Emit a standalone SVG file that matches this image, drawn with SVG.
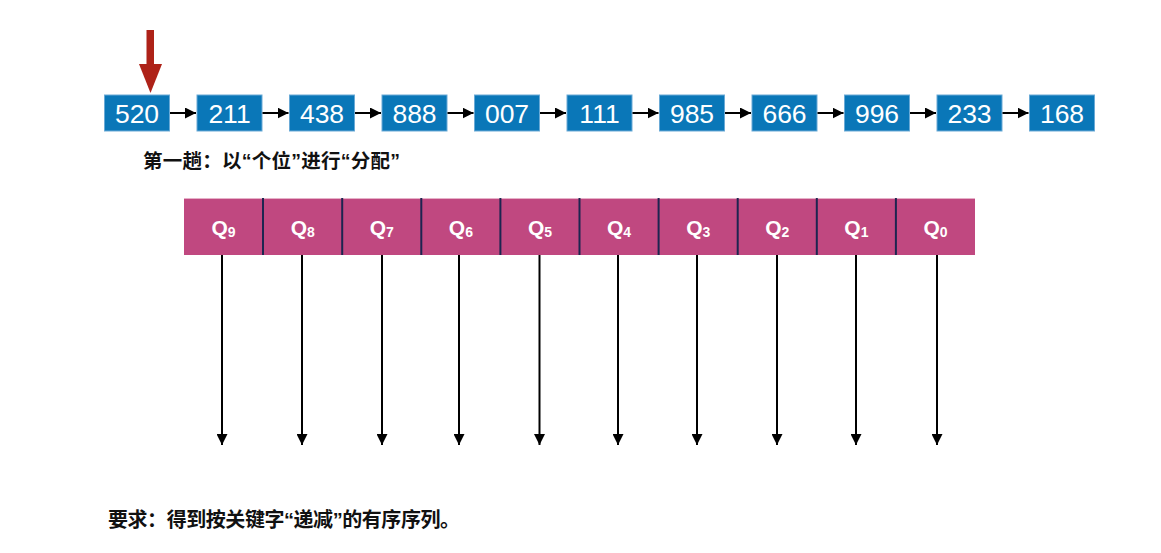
<svg xmlns="http://www.w3.org/2000/svg" width="1161" height="553" viewBox="0 0 1161 553">
<defs>
<style>
.box{fill:#0a77b8;stroke:#6aaad6;stroke-width:1}
.num{font-family:"Liberation Sans",Arial,sans-serif;font-size:26.5px;fill:#fff;text-anchor:middle}
.cell{fill:#c04880}
.div{stroke:#1c2550;stroke-width:2}
.q{font-family:"Liberation Sans",Arial,sans-serif;font-weight:bold;font-size:21px;fill:#fff;text-anchor:middle}
.q tspan.s{font-size:14px}
.lnk{stroke:#000;stroke-width:2;fill:none}
.cap{font-family:"Liberation Sans","Noto Sans CJK SC",sans-serif;font-weight:bold;fill:#111}
</style>
<marker id="ah" viewBox="0 0 10 10" refX="10" refY="5" markerWidth="5.5" markerHeight="5.5" markerUnits="strokeWidth" orient="auto"><path d="M0,0 L10,5 L0,10 Z" fill="#000"/></marker>
</defs>
<rect width="1161" height="553" fill="#fff"/>
<g id="pointer">
<rect x="146.5" y="30" width="7.5" height="35" fill="#ae2218"/>
<polygon points="139,64 162,64 150.5,93" fill="#ae2218"/>
</g>
<g id="n520"><rect class="box" x="104.5" y="95" width="65" height="36"/><text class="num" x="137" y="123">520</text></g>
<g id="n211"><rect class="box" x="197" y="95" width="65" height="36"/><text class="num" x="229.5" y="123">211</text></g>
<g id="n438"><rect class="box" x="289.5" y="95" width="65" height="36"/><text class="num" x="322" y="123">438</text></g>
<g id="n888"><rect class="box" x="382" y="95" width="65" height="36"/><text class="num" x="414.5" y="123">888</text></g>
<g id="n007"><rect class="box" x="474.5" y="95" width="65" height="36"/><text class="num" x="507" y="123">007</text></g>
<g id="n111"><rect class="box" x="567" y="95" width="65" height="36"/><text class="num" x="599.5" y="123">111</text></g>
<g id="n985"><rect class="box" x="659.5" y="95" width="65" height="36"/><text class="num" x="692" y="123">985</text></g>
<g id="n666"><rect class="box" x="752" y="95" width="65" height="36"/><text class="num" x="784.5" y="123">666</text></g>
<g id="n996"><rect class="box" x="844.5" y="95" width="65" height="36"/><text class="num" x="877" y="123">996</text></g>
<g id="n233"><rect class="box" x="937" y="95" width="65" height="36"/><text class="num" x="969.5" y="123">233</text></g>
<g id="n168"><rect class="box" x="1029.5" y="95" width="65" height="36"/><text class="num" x="1062" y="123">168</text></g>
<text class="cap" x="143" y="168" font-size="19.5" textLength="257">第一趟：以“个位”进行“分配”</text>
<g id="queues">
<rect class="cell" x="184" y="198" width="791" height="57"/>
<line x1="184" y1="198.5" x2="975" y2="198.5" stroke="#e6b0c8" stroke-width="1"/>
<line class="div" x1="263" y1="198" x2="263" y2="255"/>
<line class="div" x1="342.2" y1="198" x2="342.2" y2="255"/>
<line class="div" x1="421.3" y1="198" x2="421.3" y2="255"/>
<line class="div" x1="500.4" y1="198" x2="500.4" y2="255"/>
<line class="div" x1="579.5" y1="198" x2="579.5" y2="255"/>
<line class="div" x1="658.6" y1="198" x2="658.6" y2="255"/>
<line class="div" x1="737.7" y1="198" x2="737.7" y2="255"/>
<line class="div" x1="816.8" y1="198" x2="816.8" y2="255"/>
<line class="div" x1="895.9" y1="198" x2="895.9" y2="255"/>
<g id="q9"><text class="q" x="223.6" y="235">Q<tspan class="s" dy="2">9</tspan></text></g>
<g id="q8"><text class="q" x="302.7" y="235">Q<tspan class="s" dy="2">8</tspan></text></g>
<g id="q7"><text class="q" x="381.8" y="235">Q<tspan class="s" dy="2">7</tspan></text></g>
<g id="q6"><text class="q" x="460.9" y="235">Q<tspan class="s" dy="2">6</tspan></text></g>
<g id="q5"><text class="q" x="540" y="235">Q<tspan class="s" dy="2">5</tspan></text></g>
<g id="q4"><text class="q" x="619.1" y="235">Q<tspan class="s" dy="2">4</tspan></text></g>
<g id="q3"><text class="q" x="698.2" y="235">Q<tspan class="s" dy="2">3</tspan></text></g>
<g id="q2"><text class="q" x="777.3" y="235">Q<tspan class="s" dy="2">2</tspan></text></g>
<g id="q1"><text class="q" x="856.4" y="235">Q<tspan class="s" dy="2">1</tspan></text></g>
<g id="q0"><text class="q" x="935.5" y="235">Q<tspan class="s" dy="2">0</tspan></text></g>
</g>
<g id="connectors">
<line class="lnk" x1="170" y1="113" x2="196" y2="113" marker-end="url(#ah)"/>
<line class="lnk" x1="262.5" y1="113" x2="288.5" y2="113" marker-end="url(#ah)"/>
<line class="lnk" x1="355" y1="113" x2="381" y2="113" marker-end="url(#ah)"/>
<line class="lnk" x1="447.5" y1="113" x2="473.5" y2="113" marker-end="url(#ah)"/>
<line class="lnk" x1="540" y1="113" x2="566" y2="113" marker-end="url(#ah)"/>
<line class="lnk" x1="632.5" y1="113" x2="658.5" y2="113" marker-end="url(#ah)"/>
<line class="lnk" x1="725" y1="113" x2="751" y2="113" marker-end="url(#ah)"/>
<line class="lnk" x1="817.5" y1="113" x2="843.5" y2="113" marker-end="url(#ah)"/>
<line class="lnk" x1="910" y1="113" x2="936" y2="113" marker-end="url(#ah)"/>
<line class="lnk" x1="1002.5" y1="113" x2="1028.5" y2="113" marker-end="url(#ah)"/>
<line class="lnk" x1="222" y1="255" x2="222" y2="445" marker-end="url(#ah)"/>
<line class="lnk" x1="302" y1="255" x2="302" y2="445" marker-end="url(#ah)"/>
<line class="lnk" x1="382" y1="255" x2="382" y2="445" marker-end="url(#ah)"/>
<line class="lnk" x1="459" y1="255" x2="459" y2="445" marker-end="url(#ah)"/>
<line class="lnk" x1="539.5" y1="255" x2="539.5" y2="445" marker-end="url(#ah)"/>
<line class="lnk" x1="618" y1="255" x2="618" y2="445" marker-end="url(#ah)"/>
<line class="lnk" x1="697" y1="255" x2="697" y2="445" marker-end="url(#ah)"/>
<line class="lnk" x1="777" y1="255" x2="777" y2="445" marker-end="url(#ah)"/>
<line class="lnk" x1="856" y1="255" x2="856" y2="445" marker-end="url(#ah)"/>
<line class="lnk" x1="937" y1="255" x2="937" y2="445" marker-end="url(#ah)"/>
</g>
<text class="cap" x="108" y="527" font-size="20" textLength="352">要求：得到按关键字“递减”的有序序列。</text>
</svg>
